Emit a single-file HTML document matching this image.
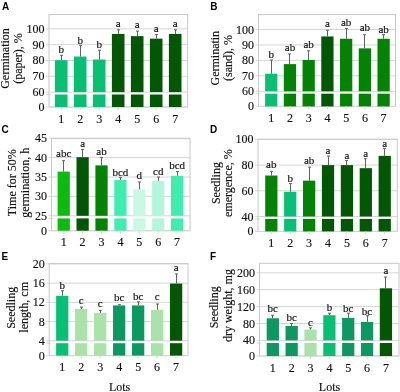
<!DOCTYPE html>
<html><head><meta charset="utf-8"><style>
html,body{margin:0;padding:0;background:#fff;}
body{width:400px;height:392px;overflow:hidden;}
svg{display:block;will-change:transform;filter:blur(0.3px);}
.s{font-family:"Liberation Serif", serif;font-size:12px;fill:#111;stroke:#111;stroke-width:0.15px;}
.lab{font-family:"Liberation Serif", serif;font-size:11px;fill:#111;stroke:#111;stroke-width:0.15px;}
.L{font-family:"Liberation Sans", sans-serif;font-weight:bold;font-size:10px;fill:#000;}
</style></head><body>
<svg width="400" height="392" viewBox="0 0 400 392">
<rect width="400" height="392" fill="#fff"/>
<line x1="46" y1="28.86" x2="187.6" y2="28.86" stroke="#d6d6d6" stroke-width="1"/>
<line x1="46" y1="44.67" x2="187.6" y2="44.67" stroke="#d6d6d6" stroke-width="1"/>
<line x1="46" y1="60.48" x2="187.6" y2="60.48" stroke="#d6d6d6" stroke-width="1"/>
<line x1="46" y1="76.29" x2="187.6" y2="76.29" stroke="#d6d6d6" stroke-width="1"/>
<line x1="46" y1="92.1" x2="187.6" y2="92.1" stroke="#d6d6d6" stroke-width="1"/>
<line x1="46" y1="94.5" x2="51" y2="94.5" stroke="#d6d6d6" stroke-width="1"/>
<rect x="49" y="14.5" width="138.6" height="92.5" fill="none" stroke="#c8c8c8" stroke-width="1"/>
<line x1="46" y1="107" x2="187.6" y2="107" stroke="#d6d6d6" stroke-width="1"/>
<rect x="54.9" y="60.16" width="12.6" height="31.94" fill="#08C074"/>
<rect x="54.9" y="94.5" width="12.6" height="12.5" fill="#08C074"/>
<line x1="61.5" y1="55.26" x2="61.5" y2="60.16" stroke="#606066" stroke-width="1"/>
<line x1="60" y1="55.26" x2="63" y2="55.26" stroke="#606066" stroke-width="1"/>
<text x="61.2" y="52.9" text-anchor="middle" class="lab">b</text>
<line x1="61.2" y1="107" x2="61.2" y2="110" stroke="#d6d6d6" stroke-width="1"/>
<text x="61.2" y="122.5" text-anchor="middle" class="s">1</text>
<rect x="73.9" y="56.53" width="12.6" height="35.57" fill="#08C074"/>
<rect x="73.9" y="94.5" width="12.6" height="12.5" fill="#08C074"/>
<line x1="80.5" y1="45.3" x2="80.5" y2="56.53" stroke="#606066" stroke-width="1"/>
<line x1="79" y1="45.3" x2="82" y2="45.3" stroke="#606066" stroke-width="1"/>
<text x="80.2" y="43.9" text-anchor="middle" class="lab">b</text>
<line x1="80.2" y1="107" x2="80.2" y2="110" stroke="#d6d6d6" stroke-width="1"/>
<text x="80.2" y="122.5" text-anchor="middle" class="s">2</text>
<rect x="92.9" y="59.53" width="12.6" height="32.57" fill="#08C074"/>
<rect x="92.9" y="94.5" width="12.6" height="12.5" fill="#08C074"/>
<line x1="99.5" y1="50.2" x2="99.5" y2="59.53" stroke="#606066" stroke-width="1"/>
<line x1="98" y1="50.2" x2="101" y2="50.2" stroke="#606066" stroke-width="1"/>
<text x="99.2" y="48.4" text-anchor="middle" class="lab">b</text>
<line x1="99.2" y1="107" x2="99.2" y2="110" stroke="#d6d6d6" stroke-width="1"/>
<text x="99.2" y="122.5" text-anchor="middle" class="s">3</text>
<rect x="111.9" y="33.92" width="12.6" height="58.18" fill="#025802"/>
<rect x="111.9" y="94.5" width="12.6" height="12.5" fill="#025802"/>
<line x1="118.5" y1="29.81" x2="118.5" y2="33.92" stroke="#606066" stroke-width="1"/>
<line x1="117" y1="29.81" x2="120" y2="29.81" stroke="#606066" stroke-width="1"/>
<text x="118.2" y="26.9" text-anchor="middle" class="lab">a</text>
<line x1="118.2" y1="107" x2="118.2" y2="110" stroke="#d6d6d6" stroke-width="1"/>
<text x="118.2" y="122.5" text-anchor="middle" class="s">4</text>
<rect x="130.9" y="36.13" width="12.6" height="55.97" fill="#025802"/>
<rect x="130.9" y="94.5" width="12.6" height="12.5" fill="#025802"/>
<line x1="137.5" y1="31.07" x2="137.5" y2="36.13" stroke="#606066" stroke-width="1"/>
<line x1="136" y1="31.07" x2="139" y2="31.07" stroke="#606066" stroke-width="1"/>
<text x="137.2" y="28.4" text-anchor="middle" class="lab">a</text>
<line x1="137.2" y1="107" x2="137.2" y2="110" stroke="#d6d6d6" stroke-width="1"/>
<text x="137.2" y="122.5" text-anchor="middle" class="s">5</text>
<rect x="149.9" y="38.66" width="12.6" height="53.44" fill="#025802"/>
<rect x="149.9" y="94.5" width="12.6" height="12.5" fill="#025802"/>
<line x1="156.5" y1="34.55" x2="156.5" y2="38.66" stroke="#606066" stroke-width="1"/>
<line x1="155" y1="34.55" x2="158" y2="34.55" stroke="#606066" stroke-width="1"/>
<text x="156.2" y="31.6" text-anchor="middle" class="lab">a</text>
<line x1="156.2" y1="107" x2="156.2" y2="110" stroke="#d6d6d6" stroke-width="1"/>
<text x="156.2" y="122.5" text-anchor="middle" class="s">6</text>
<rect x="168.9" y="33.92" width="12.6" height="58.18" fill="#025802"/>
<rect x="168.9" y="94.5" width="12.6" height="12.5" fill="#025802"/>
<line x1="175.5" y1="29.81" x2="175.5" y2="33.92" stroke="#606066" stroke-width="1"/>
<line x1="174" y1="29.81" x2="177" y2="29.81" stroke="#606066" stroke-width="1"/>
<text x="175.2" y="27.4" text-anchor="middle" class="lab">a</text>
<line x1="175.2" y1="107" x2="175.2" y2="110" stroke="#d6d6d6" stroke-width="1"/>
<text x="175.2" y="122.5" text-anchor="middle" class="s">7</text>
<text x="44.5" y="32.86" text-anchor="end" class="s">100</text>
<text x="44.5" y="48.67" text-anchor="end" class="s">90</text>
<text x="44.5" y="64.48" text-anchor="end" class="s">80</text>
<text x="44.5" y="80.29" text-anchor="end" class="s">70</text>
<text x="44.5" y="96.1" text-anchor="end" class="s">60</text>
<text x="44.5" y="111" text-anchor="end" class="s">0</text>
<text transform="translate(8.6,58.5) rotate(-90)" text-anchor="middle" class="s">Germination</text>
<text transform="translate(21.8,58.5) rotate(-90)" text-anchor="middle" class="s">(paper), %</text>
<text x="2" y="9.8" class="L">A</text>
<line x1="255.5" y1="29.5" x2="395.5" y2="29.5" stroke="#d6d6d6" stroke-width="1"/>
<line x1="255.5" y1="44.95" x2="395.5" y2="44.95" stroke="#d6d6d6" stroke-width="1"/>
<line x1="255.5" y1="60.4" x2="395.5" y2="60.4" stroke="#d6d6d6" stroke-width="1"/>
<line x1="255.5" y1="75.85" x2="395.5" y2="75.85" stroke="#d6d6d6" stroke-width="1"/>
<line x1="255.5" y1="91.3" x2="395.5" y2="91.3" stroke="#d6d6d6" stroke-width="1"/>
<line x1="255.5" y1="93.7" x2="260.5" y2="93.7" stroke="#d6d6d6" stroke-width="1"/>
<rect x="258.5" y="14.6" width="137" height="91.8" fill="none" stroke="#c8c8c8" stroke-width="1"/>
<line x1="255.5" y1="106.4" x2="395.5" y2="106.4" stroke="#d6d6d6" stroke-width="1"/>
<rect x="265.1" y="73.69" width="12.25" height="17.61" fill="#08C074"/>
<rect x="265.1" y="93.7" width="12.25" height="12.7" fill="#08C074"/>
<line x1="271.5" y1="59.94" x2="271.5" y2="73.69" stroke="#606066" stroke-width="1"/>
<line x1="270" y1="59.94" x2="273" y2="59.94" stroke="#606066" stroke-width="1"/>
<text x="271.23" y="57.6" text-anchor="middle" class="lab">b</text>
<line x1="271.23" y1="106.4" x2="271.23" y2="109.4" stroke="#d6d6d6" stroke-width="1"/>
<text x="271.23" y="121.9" text-anchor="middle" class="s">1</text>
<rect x="283.83" y="64.11" width="12.25" height="27.19" fill="#028402"/>
<rect x="283.83" y="93.7" width="12.25" height="12.7" fill="#028402"/>
<line x1="289.5" y1="53.91" x2="289.5" y2="64.11" stroke="#606066" stroke-width="1"/>
<line x1="288" y1="53.91" x2="291" y2="53.91" stroke="#606066" stroke-width="1"/>
<text x="289.96" y="51.4" text-anchor="middle" class="lab">ab</text>
<line x1="289.96" y1="106.4" x2="289.96" y2="109.4" stroke="#d6d6d6" stroke-width="1"/>
<text x="289.96" y="121.9" text-anchor="middle" class="s">2</text>
<rect x="302.56" y="59.94" width="12.25" height="31.36" fill="#028402"/>
<rect x="302.56" y="93.7" width="12.25" height="12.7" fill="#028402"/>
<line x1="308.5" y1="50.82" x2="308.5" y2="59.94" stroke="#606066" stroke-width="1"/>
<line x1="307" y1="50.82" x2="310" y2="50.82" stroke="#606066" stroke-width="1"/>
<text x="308.69" y="48.4" text-anchor="middle" class="lab">ab</text>
<line x1="308.69" y1="106.4" x2="308.69" y2="109.4" stroke="#d6d6d6" stroke-width="1"/>
<text x="308.69" y="121.9" text-anchor="middle" class="s">3</text>
<rect x="321.29" y="36.45" width="12.25" height="54.85" fill="#025802"/>
<rect x="321.29" y="93.7" width="12.25" height="12.7" fill="#025802"/>
<line x1="327.5" y1="30.27" x2="327.5" y2="36.45" stroke="#606066" stroke-width="1"/>
<line x1="326" y1="30.27" x2="329" y2="30.27" stroke="#606066" stroke-width="1"/>
<text x="327.42" y="27.4" text-anchor="middle" class="lab">a</text>
<line x1="327.42" y1="106.4" x2="327.42" y2="109.4" stroke="#d6d6d6" stroke-width="1"/>
<text x="327.42" y="121.9" text-anchor="middle" class="s">4</text>
<rect x="340.02" y="38.77" width="12.25" height="52.53" fill="#028402"/>
<rect x="340.02" y="93.7" width="12.25" height="12.7" fill="#028402"/>
<line x1="346.5" y1="28.57" x2="346.5" y2="38.77" stroke="#606066" stroke-width="1"/>
<line x1="345" y1="28.57" x2="348" y2="28.57" stroke="#606066" stroke-width="1"/>
<text x="346.15" y="26.1" text-anchor="middle" class="lab">ab</text>
<line x1="346.15" y1="106.4" x2="346.15" y2="109.4" stroke="#d6d6d6" stroke-width="1"/>
<text x="346.15" y="121.9" text-anchor="middle" class="s">5</text>
<rect x="358.75" y="48.35" width="12.25" height="42.95" fill="#028402"/>
<rect x="358.75" y="93.7" width="12.25" height="12.7" fill="#028402"/>
<line x1="364.5" y1="34.75" x2="364.5" y2="48.35" stroke="#606066" stroke-width="1"/>
<line x1="363" y1="34.75" x2="366" y2="34.75" stroke="#606066" stroke-width="1"/>
<text x="364.88" y="31.2" text-anchor="middle" class="lab">ab</text>
<line x1="364.88" y1="106.4" x2="364.88" y2="109.4" stroke="#d6d6d6" stroke-width="1"/>
<text x="364.88" y="121.9" text-anchor="middle" class="s">6</text>
<rect x="377.48" y="38.77" width="12.25" height="52.53" fill="#028402"/>
<rect x="377.48" y="93.7" width="12.25" height="12.7" fill="#028402"/>
<line x1="383.5" y1="34.75" x2="383.5" y2="38.77" stroke="#606066" stroke-width="1"/>
<line x1="382" y1="34.75" x2="385" y2="34.75" stroke="#606066" stroke-width="1"/>
<text x="383.61" y="33.3" text-anchor="middle" class="lab">ab</text>
<line x1="383.61" y1="106.4" x2="383.61" y2="109.4" stroke="#d6d6d6" stroke-width="1"/>
<text x="383.61" y="121.9" text-anchor="middle" class="s">7</text>
<text x="254" y="33.5" text-anchor="end" class="s">100</text>
<text x="254" y="48.95" text-anchor="end" class="s">90</text>
<text x="254" y="64.4" text-anchor="end" class="s">80</text>
<text x="254" y="79.85" text-anchor="end" class="s">70</text>
<text x="254" y="95.3" text-anchor="end" class="s">60</text>
<text x="254" y="110.4" text-anchor="end" class="s">0</text>
<text transform="translate(219.4,58.2) rotate(-90)" text-anchor="middle" class="s">Germinatin</text>
<text transform="translate(231.8,58) rotate(-90)" text-anchor="middle" class="s">(sand), %</text>
<text x="210.3" y="9.8" class="L">B</text>
<line x1="48.5" y1="138.2" x2="190" y2="138.2" stroke="#d6d6d6" stroke-width="1"/>
<line x1="48.5" y1="157.6" x2="190" y2="157.6" stroke="#d6d6d6" stroke-width="1"/>
<line x1="48.5" y1="177" x2="190" y2="177" stroke="#d6d6d6" stroke-width="1"/>
<line x1="48.5" y1="196.4" x2="190" y2="196.4" stroke="#d6d6d6" stroke-width="1"/>
<line x1="48.5" y1="215.8" x2="190" y2="215.8" stroke="#d6d6d6" stroke-width="1"/>
<line x1="48.5" y1="218.4" x2="53.5" y2="218.4" stroke="#d6d6d6" stroke-width="1"/>
<rect x="51.5" y="138.6" width="138.5" height="92.1" fill="none" stroke="#c8c8c8" stroke-width="1"/>
<line x1="48.5" y1="230.7" x2="190" y2="230.7" stroke="#d6d6d6" stroke-width="1"/>
<rect x="57.6" y="171.57" width="12.25" height="44.23" fill="#0CBC0C"/>
<rect x="57.6" y="218.4" width="12.25" height="12.3" fill="#0CBC0C"/>
<line x1="63.5" y1="160.7" x2="63.5" y2="171.57" stroke="#606066" stroke-width="1"/>
<line x1="62" y1="160.7" x2="65" y2="160.7" stroke="#606066" stroke-width="1"/>
<text x="63.73" y="157.3" text-anchor="middle" class="lab">abc</text>
<line x1="63.73" y1="230.7" x2="63.73" y2="233.7" stroke="#d6d6d6" stroke-width="1"/>
<text x="63.73" y="246.2" text-anchor="middle" class="s">1</text>
<rect x="76.5" y="157.21" width="12.25" height="58.59" fill="#025802"/>
<rect x="76.5" y="218.4" width="12.25" height="12.3" fill="#025802"/>
<line x1="82.5" y1="149.45" x2="82.5" y2="157.21" stroke="#606066" stroke-width="1"/>
<line x1="81" y1="149.45" x2="84" y2="149.45" stroke="#606066" stroke-width="1"/>
<text x="82.62" y="146.9" text-anchor="middle" class="lab">a</text>
<line x1="82.62" y1="230.7" x2="82.62" y2="233.7" stroke="#d6d6d6" stroke-width="1"/>
<text x="82.62" y="246.2" text-anchor="middle" class="s">2</text>
<rect x="95.4" y="165.36" width="12.25" height="50.44" fill="#028402"/>
<rect x="95.4" y="218.4" width="12.25" height="12.3" fill="#028402"/>
<line x1="101.5" y1="157.6" x2="101.5" y2="165.36" stroke="#606066" stroke-width="1"/>
<line x1="100" y1="157.6" x2="103" y2="157.6" stroke="#606066" stroke-width="1"/>
<text x="101.53" y="155.1" text-anchor="middle" class="lab">ab</text>
<line x1="101.53" y1="230.7" x2="101.53" y2="233.7" stroke="#d6d6d6" stroke-width="1"/>
<text x="101.53" y="246.2" text-anchor="middle" class="s">3</text>
<rect x="114.3" y="180.1" width="12.25" height="35.7" fill="#3EEEAE"/>
<rect x="114.3" y="218.4" width="12.25" height="12.3" fill="#3EEEAE"/>
<line x1="120.5" y1="177.39" x2="120.5" y2="180.1" stroke="#606066" stroke-width="1"/>
<line x1="119" y1="177.39" x2="122" y2="177.39" stroke="#606066" stroke-width="1"/>
<text x="120.42" y="175.6" text-anchor="middle" class="lab">bcd</text>
<line x1="120.42" y1="230.7" x2="120.42" y2="233.7" stroke="#d6d6d6" stroke-width="1"/>
<text x="120.42" y="246.2" text-anchor="middle" class="s">4</text>
<rect x="133.2" y="189.42" width="12.25" height="26.38" fill="#C8F9E5"/>
<rect x="133.2" y="218.4" width="12.25" height="12.3" fill="#C8F9E5"/>
<line x1="139.5" y1="182.04" x2="139.5" y2="189.42" stroke="#606066" stroke-width="1"/>
<line x1="138" y1="182.04" x2="141" y2="182.04" stroke="#606066" stroke-width="1"/>
<text x="139.32" y="178.6" text-anchor="middle" class="lab">d</text>
<line x1="139.32" y1="230.7" x2="139.32" y2="233.7" stroke="#d6d6d6" stroke-width="1"/>
<text x="139.32" y="246.2" text-anchor="middle" class="s">5</text>
<rect x="152.1" y="180.88" width="12.25" height="34.92" fill="#B3F5DD"/>
<rect x="152.1" y="218.4" width="12.25" height="12.3" fill="#B3F5DD"/>
<line x1="158.5" y1="177" x2="158.5" y2="180.88" stroke="#606066" stroke-width="1"/>
<line x1="157" y1="177" x2="160" y2="177" stroke="#606066" stroke-width="1"/>
<text x="158.22" y="174.6" text-anchor="middle" class="lab">cd</text>
<line x1="158.22" y1="230.7" x2="158.22" y2="233.7" stroke="#d6d6d6" stroke-width="1"/>
<text x="158.22" y="246.2" text-anchor="middle" class="s">6</text>
<rect x="171" y="175.84" width="12.25" height="39.96" fill="#3EEEAE"/>
<rect x="171" y="218.4" width="12.25" height="12.3" fill="#3EEEAE"/>
<line x1="177.5" y1="171.57" x2="177.5" y2="175.84" stroke="#606066" stroke-width="1"/>
<line x1="176" y1="171.57" x2="179" y2="171.57" stroke="#606066" stroke-width="1"/>
<text x="177.12" y="168.6" text-anchor="middle" class="lab">bcd</text>
<line x1="177.12" y1="230.7" x2="177.12" y2="233.7" stroke="#d6d6d6" stroke-width="1"/>
<text x="177.12" y="246.2" text-anchor="middle" class="s">7</text>
<text x="47" y="142.2" text-anchor="end" class="s">45</text>
<text x="47" y="161.6" text-anchor="end" class="s">40</text>
<text x="47" y="181" text-anchor="end" class="s">35</text>
<text x="47" y="200.4" text-anchor="end" class="s">30</text>
<text x="47" y="219.8" text-anchor="end" class="s">25</text>
<text x="47" y="234.7" text-anchor="end" class="s">0</text>
<text transform="translate(16,182.75) rotate(-90)" text-anchor="middle" class="s">Time for 50%</text>
<text transform="translate(28.9,182.85) rotate(-90)" text-anchor="middle" class="s">germination, h</text>
<text x="1.6" y="132.5" class="L">C</text>
<line x1="255" y1="139.4" x2="397.3" y2="139.4" stroke="#d6d6d6" stroke-width="1"/>
<line x1="255" y1="165.1" x2="397.3" y2="165.1" stroke="#d6d6d6" stroke-width="1"/>
<line x1="255" y1="190.8" x2="397.3" y2="190.8" stroke="#d6d6d6" stroke-width="1"/>
<line x1="255" y1="216.5" x2="397.3" y2="216.5" stroke="#d6d6d6" stroke-width="1"/>
<line x1="255" y1="218.9" x2="260" y2="218.9" stroke="#d6d6d6" stroke-width="1"/>
<rect x="258" y="139.2" width="139.3" height="92.2" fill="none" stroke="#c8c8c8" stroke-width="1"/>
<line x1="255" y1="231.4" x2="397.3" y2="231.4" stroke="#d6d6d6" stroke-width="1"/>
<rect x="265.2" y="175.51" width="12.25" height="40.99" fill="#028402"/>
<rect x="265.2" y="218.9" width="12.25" height="12.5" fill="#028402"/>
<line x1="271.5" y1="171.4" x2="271.5" y2="175.51" stroke="#606066" stroke-width="1"/>
<line x1="270" y1="171.4" x2="273" y2="171.4" stroke="#606066" stroke-width="1"/>
<text x="271.32" y="168.4" text-anchor="middle" class="lab">ab</text>
<line x1="271.32" y1="231.4" x2="271.32" y2="234.4" stroke="#d6d6d6" stroke-width="1"/>
<text x="271.32" y="246.9" text-anchor="middle" class="s">1</text>
<rect x="284.1" y="191.83" width="12.25" height="24.67" fill="#08C074"/>
<rect x="284.1" y="218.9" width="12.25" height="12.5" fill="#08C074"/>
<line x1="290.5" y1="183.48" x2="290.5" y2="191.83" stroke="#606066" stroke-width="1"/>
<line x1="289" y1="183.48" x2="292" y2="183.48" stroke="#606066" stroke-width="1"/>
<text x="290.22" y="181.6" text-anchor="middle" class="lab">b</text>
<line x1="290.22" y1="231.4" x2="290.22" y2="234.4" stroke="#d6d6d6" stroke-width="1"/>
<text x="290.22" y="246.9" text-anchor="middle" class="s">2</text>
<rect x="303" y="180.65" width="12.25" height="35.85" fill="#028402"/>
<rect x="303" y="218.9" width="12.25" height="12.5" fill="#028402"/>
<line x1="309.5" y1="167.16" x2="309.5" y2="180.65" stroke="#606066" stroke-width="1"/>
<line x1="308" y1="167.16" x2="311" y2="167.16" stroke="#606066" stroke-width="1"/>
<text x="309.12" y="163.7" text-anchor="middle" class="lab">ab</text>
<line x1="309.12" y1="231.4" x2="309.12" y2="234.4" stroke="#d6d6d6" stroke-width="1"/>
<text x="309.12" y="246.9" text-anchor="middle" class="s">3</text>
<rect x="321.9" y="165.1" width="12.25" height="51.4" fill="#025802"/>
<rect x="321.9" y="218.9" width="12.25" height="12.5" fill="#025802"/>
<line x1="328.5" y1="156.1" x2="328.5" y2="165.1" stroke="#606066" stroke-width="1"/>
<line x1="327" y1="156.1" x2="330" y2="156.1" stroke="#606066" stroke-width="1"/>
<text x="328.02" y="154.1" text-anchor="middle" class="lab">a</text>
<line x1="328.02" y1="231.4" x2="328.02" y2="234.4" stroke="#d6d6d6" stroke-width="1"/>
<text x="328.02" y="246.9" text-anchor="middle" class="s">4</text>
<rect x="340.8" y="165.1" width="12.25" height="51.4" fill="#025802"/>
<rect x="340.8" y="218.9" width="12.25" height="12.5" fill="#025802"/>
<line x1="346.5" y1="160.6" x2="346.5" y2="165.1" stroke="#606066" stroke-width="1"/>
<line x1="345" y1="160.6" x2="348" y2="160.6" stroke="#606066" stroke-width="1"/>
<text x="346.92" y="159.2" text-anchor="middle" class="lab">a</text>
<line x1="346.92" y1="231.4" x2="346.92" y2="234.4" stroke="#d6d6d6" stroke-width="1"/>
<text x="346.92" y="246.9" text-anchor="middle" class="s">5</text>
<rect x="359.7" y="168.18" width="12.25" height="48.32" fill="#025802"/>
<rect x="359.7" y="218.9" width="12.25" height="12.5" fill="#025802"/>
<line x1="365.5" y1="158.67" x2="365.5" y2="168.18" stroke="#606066" stroke-width="1"/>
<line x1="364" y1="158.67" x2="367" y2="158.67" stroke="#606066" stroke-width="1"/>
<text x="365.82" y="157.2" text-anchor="middle" class="lab">a</text>
<line x1="365.82" y1="231.4" x2="365.82" y2="234.4" stroke="#d6d6d6" stroke-width="1"/>
<text x="365.82" y="246.9" text-anchor="middle" class="s">6</text>
<rect x="378.6" y="155.85" width="12.25" height="60.65" fill="#025802"/>
<rect x="378.6" y="218.9" width="12.25" height="12.5" fill="#025802"/>
<line x1="384.5" y1="148.39" x2="384.5" y2="155.85" stroke="#606066" stroke-width="1"/>
<line x1="383" y1="148.39" x2="386" y2="148.39" stroke="#606066" stroke-width="1"/>
<text x="384.72" y="146.6" text-anchor="middle" class="lab">a</text>
<line x1="384.72" y1="231.4" x2="384.72" y2="234.4" stroke="#d6d6d6" stroke-width="1"/>
<text x="384.72" y="246.9" text-anchor="middle" class="s">7</text>
<text x="253.5" y="143.4" text-anchor="end" class="s">100</text>
<text x="253.5" y="169.1" text-anchor="end" class="s">80</text>
<text x="253.5" y="194.8" text-anchor="end" class="s">60</text>
<text x="253.5" y="220.5" text-anchor="end" class="s">40</text>
<text x="253.5" y="235.4" text-anchor="end" class="s">0</text>
<text transform="translate(219.6,183.1) rotate(-90)" text-anchor="middle" class="s">Seedling</text>
<text transform="translate(232.4,183.15) rotate(-90)" text-anchor="middle" class="s">emergence, %</text>
<text x="210.1" y="132.5" class="L">D</text>
<line x1="46.2" y1="263.9" x2="188" y2="263.9" stroke="#d6d6d6" stroke-width="1"/>
<line x1="46.2" y1="283.1" x2="188" y2="283.1" stroke="#d6d6d6" stroke-width="1"/>
<line x1="46.2" y1="302.3" x2="188" y2="302.3" stroke="#d6d6d6" stroke-width="1"/>
<line x1="46.2" y1="321.5" x2="188" y2="321.5" stroke="#d6d6d6" stroke-width="1"/>
<line x1="46.2" y1="340.7" x2="188" y2="340.7" stroke="#d6d6d6" stroke-width="1"/>
<line x1="46.2" y1="343.2" x2="51.2" y2="343.2" stroke="#d6d6d6" stroke-width="1"/>
<rect x="49.2" y="263.6" width="138.8" height="92" fill="none" stroke="#c8c8c8" stroke-width="1"/>
<line x1="46.2" y1="355.6" x2="188" y2="355.6" stroke="#d6d6d6" stroke-width="1"/>
<rect x="56.1" y="295.82" width="12.25" height="44.88" fill="#08C074"/>
<rect x="56.1" y="343.2" width="12.25" height="12.4" fill="#08C074"/>
<line x1="62.5" y1="290.78" x2="62.5" y2="295.82" stroke="#606066" stroke-width="1"/>
<line x1="61" y1="290.78" x2="64" y2="290.78" stroke="#606066" stroke-width="1"/>
<text x="62.23" y="289.3" text-anchor="middle" class="lab">b</text>
<line x1="62.23" y1="355.6" x2="62.23" y2="358.6" stroke="#d6d6d6" stroke-width="1"/>
<text x="62.23" y="371.1" text-anchor="middle" class="s">1</text>
<rect x="75.08" y="309.02" width="12.25" height="31.68" fill="#AAE3AA"/>
<rect x="75.08" y="343.2" width="12.25" height="12.4" fill="#AAE3AA"/>
<line x1="81.5" y1="307.1" x2="81.5" y2="309.02" stroke="#606066" stroke-width="1"/>
<line x1="80" y1="307.1" x2="83" y2="307.1" stroke="#606066" stroke-width="1"/>
<text x="81.2" y="303.6" text-anchor="middle" class="lab">c</text>
<line x1="81.2" y1="355.6" x2="81.2" y2="358.6" stroke="#d6d6d6" stroke-width="1"/>
<text x="81.2" y="371.1" text-anchor="middle" class="s">2</text>
<rect x="94.06" y="312.86" width="12.25" height="27.84" fill="#AAE3AA"/>
<rect x="94.06" y="343.2" width="12.25" height="12.4" fill="#AAE3AA"/>
<line x1="100.5" y1="310.46" x2="100.5" y2="312.86" stroke="#606066" stroke-width="1"/>
<line x1="99" y1="310.46" x2="102" y2="310.46" stroke="#606066" stroke-width="1"/>
<text x="100.19" y="307.3" text-anchor="middle" class="lab">c</text>
<line x1="100.19" y1="355.6" x2="100.19" y2="358.6" stroke="#d6d6d6" stroke-width="1"/>
<text x="100.19" y="371.1" text-anchor="middle" class="s">3</text>
<rect x="113.04" y="305.42" width="12.25" height="35.28" fill="#0C9861"/>
<rect x="113.04" y="343.2" width="12.25" height="12.4" fill="#0C9861"/>
<line x1="119.5" y1="304.7" x2="119.5" y2="305.42" stroke="#606066" stroke-width="1"/>
<line x1="118" y1="304.7" x2="121" y2="304.7" stroke="#606066" stroke-width="1"/>
<text x="119.16" y="300.5" text-anchor="middle" class="lab">bc</text>
<line x1="119.16" y1="355.6" x2="119.16" y2="358.6" stroke="#d6d6d6" stroke-width="1"/>
<text x="119.16" y="371.1" text-anchor="middle" class="s">4</text>
<rect x="132.02" y="305.42" width="12.25" height="35.28" fill="#0C9861"/>
<rect x="132.02" y="343.2" width="12.25" height="12.4" fill="#0C9861"/>
<line x1="138.5" y1="301.82" x2="138.5" y2="305.42" stroke="#606066" stroke-width="1"/>
<line x1="137" y1="301.82" x2="140" y2="301.82" stroke="#606066" stroke-width="1"/>
<text x="138.15" y="299.5" text-anchor="middle" class="lab">bc</text>
<line x1="138.15" y1="355.6" x2="138.15" y2="358.6" stroke="#d6d6d6" stroke-width="1"/>
<text x="138.15" y="371.1" text-anchor="middle" class="s">5</text>
<rect x="151" y="309.74" width="12.25" height="30.96" fill="#AAE3AA"/>
<rect x="151" y="343.2" width="12.25" height="12.4" fill="#AAE3AA"/>
<line x1="157.5" y1="303.98" x2="157.5" y2="309.74" stroke="#606066" stroke-width="1"/>
<line x1="156" y1="303.98" x2="159" y2="303.98" stroke="#606066" stroke-width="1"/>
<text x="157.12" y="299.5" text-anchor="middle" class="lab">c</text>
<line x1="157.12" y1="355.6" x2="157.12" y2="358.6" stroke="#d6d6d6" stroke-width="1"/>
<text x="157.12" y="371.1" text-anchor="middle" class="s">6</text>
<rect x="169.98" y="283.58" width="12.25" height="57.12" fill="#025802"/>
<rect x="169.98" y="343.2" width="12.25" height="12.4" fill="#025802"/>
<line x1="176.5" y1="273.98" x2="176.5" y2="283.58" stroke="#606066" stroke-width="1"/>
<line x1="175" y1="273.98" x2="178" y2="273.98" stroke="#606066" stroke-width="1"/>
<text x="176.1" y="271.3" text-anchor="middle" class="lab">a</text>
<line x1="176.1" y1="355.6" x2="176.1" y2="358.6" stroke="#d6d6d6" stroke-width="1"/>
<text x="176.1" y="371.1" text-anchor="middle" class="s">7</text>
<text x="44.7" y="267.9" text-anchor="end" class="s">20</text>
<text x="44.7" y="287.1" text-anchor="end" class="s">16</text>
<text x="44.7" y="306.3" text-anchor="end" class="s">12</text>
<text x="44.7" y="325.5" text-anchor="end" class="s">8</text>
<text x="44.7" y="344.7" text-anchor="end" class="s">4</text>
<text x="44.7" y="359.6" text-anchor="end" class="s">0</text>
<text transform="translate(15,307.8) rotate(-90)" text-anchor="middle" class="s">Seedling</text>
<text transform="translate(28.2,307.35) rotate(-90)" text-anchor="middle" class="s">length, cm</text>
<text x="1.5" y="260.4" class="L">E</text>
<line x1="256.5" y1="272.8" x2="399" y2="272.8" stroke="#d6d6d6" stroke-width="1"/>
<line x1="256.5" y1="289.7" x2="399" y2="289.7" stroke="#d6d6d6" stroke-width="1"/>
<line x1="256.5" y1="306.6" x2="399" y2="306.6" stroke="#d6d6d6" stroke-width="1"/>
<line x1="256.5" y1="323.5" x2="399" y2="323.5" stroke="#d6d6d6" stroke-width="1"/>
<line x1="256.5" y1="340.4" x2="399" y2="340.4" stroke="#d6d6d6" stroke-width="1"/>
<line x1="256.5" y1="343" x2="261.5" y2="343" stroke="#d6d6d6" stroke-width="1"/>
<rect x="259.5" y="263.3" width="139.5" height="92.7" fill="none" stroke="#c8c8c8" stroke-width="1"/>
<line x1="256.5" y1="356" x2="399" y2="356" stroke="#d6d6d6" stroke-width="1"/>
<rect x="266.7" y="318.3" width="12.25" height="22.1" fill="#0C9861"/>
<rect x="266.7" y="343" width="12.25" height="13" fill="#0C9861"/>
<line x1="272.5" y1="315.22" x2="272.5" y2="318.3" stroke="#606066" stroke-width="1"/>
<line x1="271" y1="315.22" x2="274" y2="315.22" stroke="#606066" stroke-width="1"/>
<text x="272.82" y="312.4" text-anchor="middle" class="lab">bc</text>
<line x1="272.82" y1="356" x2="272.82" y2="359" stroke="#d6d6d6" stroke-width="1"/>
<text x="272.82" y="371.5" text-anchor="middle" class="s">1</text>
<rect x="285.55" y="325.99" width="12.25" height="14.41" fill="#0C9861"/>
<rect x="285.55" y="343" width="12.25" height="13" fill="#0C9861"/>
<line x1="291.5" y1="323.42" x2="291.5" y2="325.99" stroke="#606066" stroke-width="1"/>
<line x1="290" y1="323.42" x2="293" y2="323.42" stroke="#606066" stroke-width="1"/>
<text x="291.68" y="320.9" text-anchor="middle" class="lab">bc</text>
<line x1="291.68" y1="356" x2="291.68" y2="359" stroke="#d6d6d6" stroke-width="1"/>
<text x="291.68" y="371.5" text-anchor="middle" class="s">2</text>
<rect x="304.4" y="329.5" width="12.25" height="10.9" fill="#AAE3AA"/>
<rect x="304.4" y="343" width="12.25" height="13" fill="#AAE3AA"/>
<line x1="310.5" y1="327.89" x2="310.5" y2="329.5" stroke="#606066" stroke-width="1"/>
<line x1="309" y1="327.89" x2="312" y2="327.89" stroke="#606066" stroke-width="1"/>
<text x="310.52" y="326" text-anchor="middle" class="lab">c</text>
<line x1="310.52" y1="356" x2="310.52" y2="359" stroke="#d6d6d6" stroke-width="1"/>
<text x="310.52" y="371.5" text-anchor="middle" class="s">3</text>
<rect x="323.25" y="315.22" width="12.25" height="25.18" fill="#08C074"/>
<rect x="323.25" y="343" width="12.25" height="13" fill="#08C074"/>
<line x1="329.5" y1="313.19" x2="329.5" y2="315.22" stroke="#606066" stroke-width="1"/>
<line x1="328" y1="313.19" x2="331" y2="313.19" stroke="#606066" stroke-width="1"/>
<text x="329.38" y="310.6" text-anchor="middle" class="lab">b</text>
<line x1="329.38" y1="356" x2="329.38" y2="359" stroke="#d6d6d6" stroke-width="1"/>
<text x="329.38" y="371.5" text-anchor="middle" class="s">4</text>
<rect x="342.1" y="317.88" width="12.25" height="22.52" fill="#0C9861"/>
<rect x="342.1" y="343" width="12.25" height="13" fill="#0C9861"/>
<line x1="348.5" y1="313.19" x2="348.5" y2="317.88" stroke="#606066" stroke-width="1"/>
<line x1="347" y1="313.19" x2="350" y2="313.19" stroke="#606066" stroke-width="1"/>
<text x="348.23" y="311.7" text-anchor="middle" class="lab">bc</text>
<line x1="348.23" y1="356" x2="348.23" y2="359" stroke="#d6d6d6" stroke-width="1"/>
<text x="348.23" y="371.5" text-anchor="middle" class="s">5</text>
<rect x="360.95" y="321.89" width="12.25" height="18.51" fill="#0C9861"/>
<rect x="360.95" y="343" width="12.25" height="13" fill="#0C9861"/>
<line x1="367.5" y1="315.81" x2="367.5" y2="321.89" stroke="#606066" stroke-width="1"/>
<line x1="366" y1="315.81" x2="369" y2="315.81" stroke="#606066" stroke-width="1"/>
<text x="367.07" y="314.8" text-anchor="middle" class="lab">bc</text>
<line x1="367.07" y1="356" x2="367.07" y2="359" stroke="#d6d6d6" stroke-width="1"/>
<text x="367.07" y="371.5" text-anchor="middle" class="s">6</text>
<rect x="379.8" y="288.31" width="12.25" height="52.09" fill="#025802"/>
<rect x="379.8" y="343" width="12.25" height="13" fill="#025802"/>
<line x1="385.5" y1="277.03" x2="385.5" y2="288.31" stroke="#606066" stroke-width="1"/>
<line x1="384" y1="277.03" x2="387" y2="277.03" stroke="#606066" stroke-width="1"/>
<text x="385.93" y="274.3" text-anchor="middle" class="lab">a</text>
<line x1="385.93" y1="356" x2="385.93" y2="359" stroke="#d6d6d6" stroke-width="1"/>
<text x="385.93" y="371.5" text-anchor="middle" class="s">7</text>
<text x="255" y="276.8" text-anchor="end" class="s">200</text>
<text x="255" y="293.7" text-anchor="end" class="s">160</text>
<text x="255" y="310.6" text-anchor="end" class="s">120</text>
<text x="255" y="327.5" text-anchor="end" class="s">80</text>
<text x="255" y="344.4" text-anchor="end" class="s">40</text>
<text x="255" y="360" text-anchor="end" class="s">0</text>
<text transform="translate(218.4,307.3) rotate(-90)" text-anchor="middle" class="s">Seedling</text>
<text transform="translate(232.4,305.55) rotate(-90)" text-anchor="middle" class="s">dry weight, mg</text>
<text x="209.9" y="260.4" class="L">F</text>
<text x="119.6" y="391" text-anchor="middle" class="s">Lots</text>
<text x="329.5" y="391" text-anchor="middle" class="s">Lots</text>
</svg>
</body></html>
